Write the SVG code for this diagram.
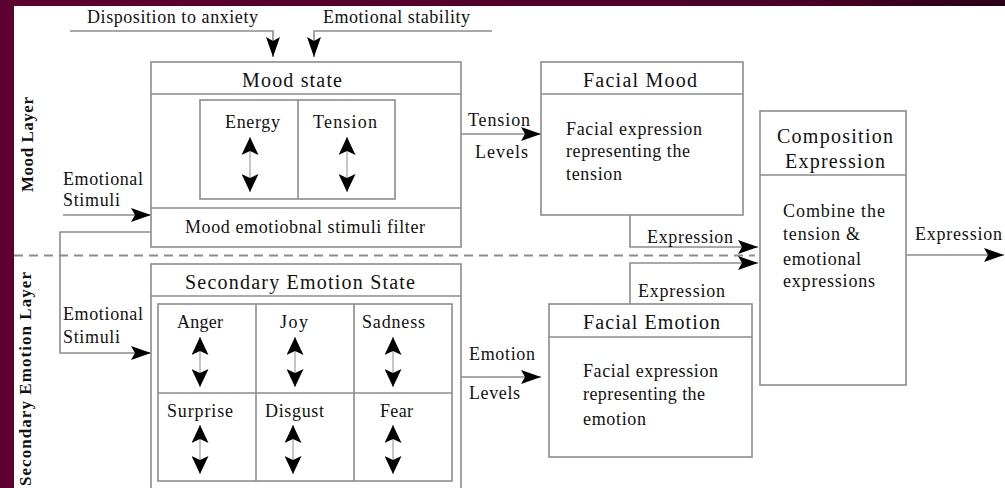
<svg xmlns="http://www.w3.org/2000/svg" width="1005" height="488" viewBox="0 0 1005 488">
<defs>
<linearGradient id="band" x1="0" y1="0" x2="1" y2="0">
<stop offset="0" stop-color="#5e0030"/>
<stop offset="0.8" stop-color="#4a0026"/>
<stop offset="1" stop-color="#2a0016"/>
</linearGradient>
<marker id="ah" markerUnits="userSpaceOnUse" markerWidth="20" markerHeight="14" refX="20" refY="7" orient="auto"><path d="M0,0 L20,7 L0,14 L4,7 Z" fill="#000"/></marker>
<marker id="dh" markerUnits="userSpaceOnUse" markerWidth="18" markerHeight="17" refX="18" refY="8.5" orient="auto-start-reverse"><path d="M0,0 L18,8.5 L0,17 L4,8.5 Z" fill="#000"/></marker>
<style>
.box{fill:#fff;stroke:#8c8c8c;stroke-width:1.6}
.ln{fill:none;stroke:#8c8c8c;stroke-width:1.6}
.c{fill:none;stroke:#8c8c8c;stroke-width:1.6;marker-end:url(#ah)}
.d{fill:none;stroke:#8c8c8c;stroke-width:1;marker-start:url(#dh);marker-end:url(#dh)}
.dash{fill:none;stroke:#8c8c8c;stroke-width:2;stroke-dasharray:9 6}
.t{font-family:"Liberation Serif","Times New Roman",serif;font-size:18px;fill:#111}
.h{font-size:20px}
.lay{font-family:"Liberation Serif","Times New Roman",serif;font-size:17px;font-weight:bold;fill:#111;text-anchor:middle}
</style>
</defs>
<rect x="0" y="0" width="1005" height="488" fill="#5e0030"/>
<rect x="0" y="0" width="1005" height="6" fill="url(#band)"/>
<rect x="14" y="6" width="991" height="482" fill="#fff"/>

<g id="layer-labels">
<text class="lay" transform="translate(33,144.5) rotate(-90)" textLength="95">Mood Layer</text>
<text class="lay" transform="translate(31,379) rotate(-90)" textLength="214">Secondary Emotion Layer</text>
</g>

<g id="connectors">
<line class="dash" x1="14" y1="255.5" x2="755" y2="255.5"/>
<polyline class="c" points="70,31 273,31 273,57"/>
<polyline class="c" points="492,31 314,31 314,57"/>
<polyline class="c" points="63,215 151,215"/>
<polyline class="c" points="151,232 60,232 60,353 151,353"/>
<polyline class="c" points="461,134 541,134"/>
<polyline class="c" points="630,215 630,247 758,247"/>
<polyline class="c" points="630,304 630,263 758,263"/>
<polyline class="c" points="461,377 541,377"/>
<polyline class="c" points="906,255 1004,255"/>
</g>

<g id="input-labels">
<text class="t" x="87" y="23" textLength="171">Disposition to anxiety</text>
<text class="t" x="323" y="23" textLength="147">Emotional stability</text>
<text class="t" x="63" y="185" textLength="80">Emotional</text>
<text class="t" x="63" y="206" textLength="57">Stimuli</text>
<text class="t" x="63" y="320" textLength="80">Emotional</text>
<text class="t" x="63" y="343" textLength="57">Stimuli</text>
<text class="t" x="468" y="126" textLength="62">Tension</text>
<text class="t" x="475" y="158" textLength="53">Levels</text>
<text class="t" x="469" y="360" textLength="66">Emotion</text>
<text class="t" x="469" y="399" textLength="51">Levels</text>
<text class="t" x="647" y="243" textLength="86">Expression</text>
<text class="t" x="638" y="297" textLength="87">Expression</text>
<text class="t" x="915" y="240" textLength="87">Expression</text>
</g>

<g id="mood-state">
<rect class="box" x="151" y="62" width="310" height="185"/>
<line class="ln" x1="151" y1="94" x2="461" y2="94"/>
<line class="ln" x1="151" y1="208" x2="461" y2="208"/>
<rect class="box" x="200" y="100" width="195" height="99"/>
<line class="ln" x1="298" y1="100" x2="298" y2="199"/>
<text class="t h" x="242" y="87" textLength="100">Mood state</text>
<text class="t" x="225" y="128" textLength="55">Energy</text>
<text class="t" x="313" y="128" textLength="64">Tension</text>
<line class="d" x1="250" y1="137" x2="250" y2="192"/>
<line class="d" x1="347" y1="137" x2="347" y2="192"/>
<text class="t" x="185" y="233" textLength="240">Mood emotiobnal stimuli filter</text>
</g>

<g id="secondary-emotion-state">
<rect class="box" x="151" y="264" width="310" height="240"/>
<line class="ln" x1="151" y1="296" x2="461" y2="296"/>
<rect class="box" x="158" y="304" width="294" height="177"/>
<line class="ln" x1="256" y1="304" x2="256" y2="481"/>
<line class="ln" x1="354" y1="304" x2="354" y2="481"/>
<line class="ln" x1="158" y1="393" x2="452" y2="393"/>
<text class="t h" x="185" y="289" textLength="230">Secondary Emotion State</text>
<text class="t" x="177" y="328" textLength="46">Anger</text>
<text class="t" x="280" y="328" textLength="28">Joy</text>
<text class="t" x="362" y="328" textLength="63">Sadness</text>
<text class="t" x="167" y="417" textLength="66">Surprise</text>
<text class="t" x="265" y="417" textLength="59">Disgust</text>
<text class="t" x="380" y="417" textLength="33">Fear</text>
<line class="d" x1="200" y1="337" x2="200" y2="387"/>
<line class="d" x1="295" y1="337" x2="295" y2="387"/>
<line class="d" x1="393" y1="337" x2="393" y2="387"/>
<line class="d" x1="200" y1="425" x2="200" y2="474"/>
<line class="d" x1="293" y1="425" x2="293" y2="474"/>
<line class="d" x1="393" y1="425" x2="393" y2="474"/>
</g>

<g id="facial-mood">
<rect class="box" x="541" y="62" width="202" height="153"/>
<line class="ln" x1="541" y1="94" x2="743" y2="94"/>
<text class="t h" x="583" y="87" textLength="114">Facial Mood</text>
<text class="t" x="566" y="135" textLength="136">Facial expression</text>
<text class="t" x="566" y="157" textLength="124">representing the</text>
<text class="t" x="566" y="180" textLength="56">tension</text>
</g>

<g id="facial-emotion">
<rect class="box" x="549" y="304" width="203" height="153"/>
<line class="ln" x1="549" y1="337" x2="752" y2="337"/>
<text class="t h" x="583" y="329" textLength="137">Facial Emotion</text>
<text class="t" x="583" y="377" textLength="135">Facial expression</text>
<text class="t" x="583" y="400" textLength="122">representing the</text>
<text class="t" x="583" y="425" textLength="63">emotion</text>
</g>

<g id="composition-expression">
<rect class="box" x="760" y="111" width="146" height="274"/>
<line class="ln" x1="760" y1="175" x2="906" y2="175"/>
<text class="t h" x="777" y="143" textLength="116">Composition</text>
<text class="t h" x="785" y="168" textLength="100">Expression</text>
<text class="t" x="783" y="217" textLength="102">Combine the</text>
<text class="t" x="783" y="240" textLength="77">tension &amp;</text>
<text class="t" x="783" y="265" textLength="78">emotional</text>
<text class="t" x="783" y="287" textLength="92">expressions</text>
</g>
</svg>
